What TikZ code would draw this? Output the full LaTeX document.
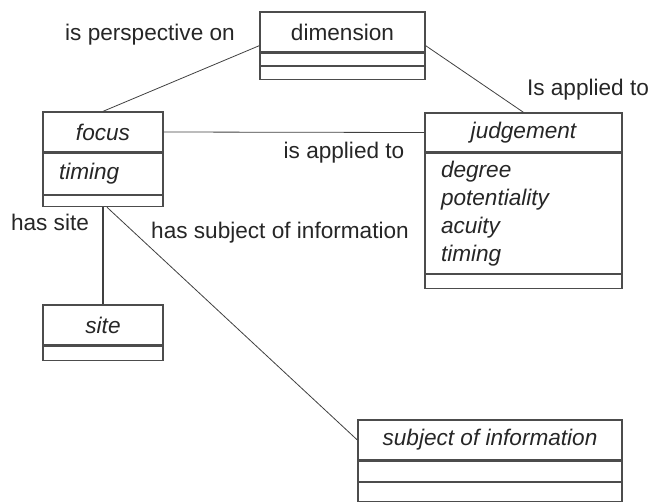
\documentclass[tikz,border=0pt]{standalone}
\usepackage{fontspec}
\setmainfont{Liberation Sans}
\usetikzlibrary{positioning,calc}

\begin{document}
\begin{tikzpicture}[x=1pt,y=-1pt]
\tikzstyle{every node}+=[inner sep=0pt, font=\fontsize{22.6}{28}\selectfont, text=black!85]
\tikzstyle{classname}=[draw=black!70, line width=1.3pt, minimum height=40pt, font=\fontsize{22.6}{28}\selectfont\itshape]
\tikzstyle{compart}=[draw=black!70, line width=1.3pt, inner xsep=16pt, align=left, font=\fontsize{22.6}{28}\selectfont\itshape]
\tikzstyle{link}=[black!75, line width=0.8pt]
\useasboundingbox (0,0) rectangle (652,501);
\node [classname, minimum width=165pt, font=\fontsize{22.6}{28}\selectfont\upshape] (dimension) at (342.5,32) {dimension};
\node [compart, minimum width=165pt, minimum height=12pt, below=0pt of dimension] (dimensionattr) {};
\node [compart, minimum width=165pt, minimum height=13pt, below=0pt of dimensionattr] (dimensionops) {};
\node [classname, minimum width=120pt] (focus) at (103,132) {focus};
\node [compart, text width=88pt, minimum height=41pt, below=0pt of focus] (focusattr) {timing};
\node [compart, minimum width=120pt, minimum height=11pt, below=0pt of focusattr] (focusops) {};
\node [classname, minimum width=197pt, minimum height=39pt] (judgement) at (523.5,132.5) {judgement};
\node [compart, text width=165pt, minimum height=120pt, below=0pt of judgement] (judgementattr) {degree\\potentiality\\acuity\\timing};
\node [compart, minimum width=197pt, minimum height=14pt, below=0pt of judgementattr] (judgementops) {};
\node [classname, minimum width=120pt] (site) at (103,325) {site};
\node [compart, minimum width=120pt, minimum height=14pt, below=0pt of site] (siteops) {};
\node [classname, minimum width=264pt] (subject) at (490,440) {subject of information};
\node [compart, minimum width=264pt, minimum height=20pt, below=0pt of subject] (subjectattr) {};
\node [compart, minimum width=264pt, minimum height=19pt, below=0pt of subjectattr] (subjectops) {};
\node (perspective) at (150,35) {is perspective on};
\node (appliedjudgement) at (588,90) {Is applied to};
\node (appliedfocus) at (344,153) {is applied to};
\node (hassite) at (50,222) {has site};
\node (hassubject) at (280,233) {has subject of information};
\draw [link] ($(dimension.south west)+(0,-7)$) -- (focus.north);
\draw [link] ($(dimension.south east)+(0,-7)$) -- (judgement.north);
\draw [link] (focus.east) -- (judgement.west);
\draw [black!75, line width=1.8pt] (focusops.south) -- (site.north);
\draw [link] ($(focusops.south)+(4,0)$) -- (subject.west);
\end{tikzpicture}
\end{document}
